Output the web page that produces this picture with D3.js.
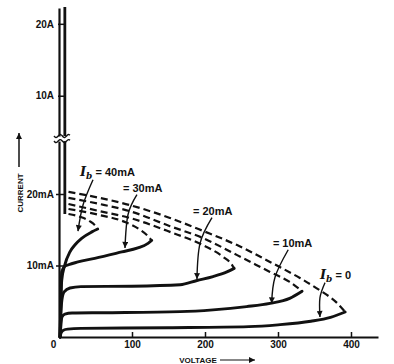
<!DOCTYPE html>
<html>
<head>
<meta charset="utf-8">
<script src="https://cdn.jsdelivr.net/npm/d3@7"></script>
<style>
  body { margin: 0; background: #fff; }
  text { font-family: 'Liberation Sans', Arial, sans-serif; font-weight: bold; fill: #111; }
</style>
</head>
<body>
<div id="chart"></div>
<script>
// values: voltage in V, current in mA (upper part in A)
const voltTicks = [0, 100, 200, 300, 400];
const mATicks = [10, 20];
const ampTicks = [10, 20];
const ibNames = ['40mA', '30mA', '20mA', '10mA', '0'];

// solid part of each characteristic, [volts, mA]
const solidIb40 = [[1.5, 0], [2.5, 5], [3.7, 7.9], [8, 10.1], [15, 11.9], [22, 12.9], [31, 13.8], [45, 14.7], [53, 15.1]];
const solidIb30 = [[1.5, 0], [2.5, 5], [3.7, 9.1], [7, 9.8], [13, 10.1], [26, 10.5], [49, 11.0], [86, 11.9], [108, 12.45], [122, 13.1], [127, 13.5]];
const solidIb20 = [[1.5, 0], [2.5, 3], [4, 5.2], [7, 6.3], [15, 6.85], [30, 7.05], [100, 7.1], [166, 7.3], [189, 7.9], [211, 8.45], [230, 9.1], [240, 9.6]];
const solidIb10 = [[1.5, 0], [2.5, 1.5], [4, 2.8], [8, 3.2], [18, 3.35], [60, 3.4], [166, 3.55], [211, 3.8], [257, 4.25], [289, 4.7], [316, 5.4], [333, 6.4]];
const solidIb0 = [[1.5, 0], [3, 0.6], [6, 0.95], [12, 1.1], [30, 1.2], [150, 1.3], [260, 1.45], [300, 1.7], [345, 2.2], [372, 2.75], [392, 3.5]];

// dashed return branch of each characteristic, [volts, mA]
const dashIb40 = [[13, 17.2], [29, 16.8], [42, 16.2], [49, 15.65], [53, 15.1]];
const dashIb30 = [[13, 17.9], [56, 17.05], [90, 16.1], [111, 15.0], [122, 14.1], [127, 13.5]];
const dashIb20 = [[13, 18.6], [56, 17.6], [97, 16.65], [152, 14.7], [197, 12.85], [225, 11.2], [237, 10.1], [240, 9.6]];
const dashIb10 = [[13, 19.45], [56, 18.6], [97, 17.6], [152, 15.5], [197, 13.85], [244, 11.45], [289, 9.1], [316, 7.7], [333, 6.4]];
const dashIb0 = [[13, 20.3], [56, 19.45], [97, 18.45], [152, 16.65], [197, 14.85], [244, 12.85], [289, 10.5], [330, 8.25], [357, 6.55], [381, 4.75], [392, 3.5]];

// callout arrows, [volts, mA]
const arrowIb40 = [[46.6, 22.0], [33, 18.5], [26, 14.8]];
const arrowIb30 = [[106.8, 19.9], [94.5, 17.1], [90.4, 12.45]];
const arrowIb20 = [[209.6, 16.7], [193.2, 13.1], [189, 8.1]];
const arrowIb10 = [[314, 12.2], [296, 8.4], [291.3, 4.7]];
const arrowIb0 = [[364.4, 7.6], [357.5, 5.5], [357.5, 2.8]];

const solidCurves = [solidIb40, solidIb30, solidIb20, solidIb10, solidIb0];
const dashCurves = [dashIb40, dashIb30, dashIb20, dashIb10, dashIb0];
const arrows = [arrowIb40, arrowIb30, arrowIb20, arrowIb10, arrowIb0];
// where each callout text starts, [volts, mA]
const calloutAt = [[28.8, 22.5], [87.7, 20.3], [183.6, 17.1], [293, 12.6], [357.5, 8.1]];

const voltMax = 437;
const mABreak = 27.4;   // axis broken here
const ampBreak = 4.4;
const ampTop = 22.2;
const spikeV = 8;       // the high-current line near zero volts
const spikeLowmA = 17.2;

const svg = d3.select('#chart').append('svg')
    .attr('width', 394)
    .attr('height', 364);

const x = d3.scaleLinear().domain([0, voltMax]).range([59, 378]);
const yLo = d3.scaleLinear().domain([0, mABreak]).range([337, 337 - mABreak * 7.15]);
const yHi = d3.scaleLinear().domain([ampBreak, ampTop]).range([136, 8]);

svg.append('defs').append('marker')
    .attr('id', 'head')
    .attr('viewBox', '0 0 10 10')
    .attr('refX', 10)
    .attr('refY', 5)
    .attr('markerWidth', 7)
    .attr('markerHeight', 6)
    .attr('markerUnits', 'userSpaceOnUse')
    .attr('orient', 'auto')
    .append('path')
    .attr('d', 'M0,0L10,5L0,10Z')
    .attr('fill', '#111');

// x axis
const xAxis = svg.append('g')
    .attr('transform', `translate(0, ${yLo(0)})`)
    .call(d3.axisBottom(x).tickValues(voltTicks).tickSizeInner(-5).tickSizeOuter(0).tickPadding(4));
xAxis.select('.domain').attr('stroke', '#111').attr('stroke-width', 2.2);
xAxis.selectAll('.tick line').attr('stroke', '#111').attr('stroke-width', 1.5)
    .filter((d) => d === 0).remove();
xAxis.selectAll('.tick text').attr('font-size', 10)
    .filter((d) => d === 0).attr('x', -6);

// lower y axis (mA)
const yAxisLo = svg.append('g')
    .attr('transform', `translate(${x(0)}, 0)`)
    .call(d3.axisLeft(yLo).tickValues(mATicks).tickSizeInner(3).tickSizeOuter(0).tickPadding(2)
        .tickFormat((d) => d + 'mA'));
yAxisLo.select('.domain').attr('stroke', '#111').attr('stroke-width', 2.2);
yAxisLo.selectAll('.tick line').attr('stroke', '#111').attr('stroke-width', 1.5).attr('x1', 5);
yAxisLo.selectAll('.tick text').attr('font-size', 10);

// upper y axis (A)
const yAxisHi = svg.append('g')
    .attr('transform', `translate(${x(0)}, 0)`)
    .call(d3.axisLeft(yHi).tickValues(ampTicks).tickSizeInner(1).tickSizeOuter(0).tickPadding(4)
        .tickFormat((d) => d + 'A'));
yAxisHi.select('.domain').attr('stroke', '#111').attr('stroke-width', 2.2);
yAxisHi.selectAll('.tick line').attr('stroke', '#111').attr('stroke-width', 1.5)
    .attr('x2', -1).attr('x1', x(spikeV) - x(0));
yAxisHi.selectAll('.tick text').attr('font-size', 10);

// the near-vertical high current line, interrupted by the break
svg.append('line')
    .attr('x1', x(spikeV)).attr('x2', x(spikeV))
    .attr('y1', yHi(ampTop) - 1).attr('y2', yHi(ampBreak))
    .attr('stroke', '#111').attr('stroke-width', 2.8);
svg.append('line')
    .attr('x1', x(spikeV)).attr('x2', x(spikeV))
    .attr('y1', yLo(mABreak)).attr('y2', yLo(spikeLowmA))
    .attr('stroke', '#111').attr('stroke-width', 2.8);

// break marks
const wave = d3.line().curve(d3.curveBasis);
[yHi(ampBreak), yLo(mABreak)].forEach((yb) => {
    const pts = d3.range(0, 17).map((t) => [x(0) - 5 + t, yb + 1.6 * Math.sin(t * 0.75)]);
    svg.append('path')
        .attr('d', wave(pts))
        .attr('fill', 'none')
        .attr('stroke', '#111')
        .attr('stroke-width', 1.4);
});

// characteristics
const curve = d3.line()
    .x((d) => x(d[0]))
    .y((d) => yLo(d[1]))
    .curve(d3.curveMonotoneX);

svg.append('g')
    .selectAll('path')
    .data(solidCurves)
    .join('path')
    .attr('d', curve)
    .attr('fill', 'none')
    .attr('stroke', '#111')
    .attr('stroke-width', 2.9)
    .attr('stroke-linecap', 'round');

svg.append('g')
    .selectAll('path')
    .data(dashCurves)
    .join('path')
    .attr('d', curve)
    .attr('fill', 'none')
    .attr('stroke', '#111')
    .attr('stroke-width', 2.2)
    .attr('stroke-dasharray', '7,4');

// callouts
const arrowLine = d3.line()
    .x((d) => x(d[0]))
    .y((d) => yLo(d[1]))
    .curve(d3.curveNatural);

svg.append('g')
    .selectAll('path')
    .data(arrows)
    .join('path')
    .attr('d', arrowLine)
    .attr('fill', 'none')
    .attr('stroke', '#111')
    .attr('stroke-width', 1.4)
    .attr('marker-end', 'url(#head)');

const callouts = svg.append('g')
    .selectAll('text')
    .data(ibNames)
    .join('text')
    .attr('x', (_, i) => x(calloutAt[i][0]))
    .attr('y', (_, i) => yLo(calloutAt[i][1]))
    .attr('font-size', 11);

callouts.each(function (d, i) {
    const t = d3.select(this);
    if (i === 0 || i === ibNames.length - 1) {
        t.append('tspan')
            .text('I')
            .attr('font-family', "'DejaVu Serif', serif")
            .attr('font-style', 'italic')
            .attr('font-size', 13);
        t.append('tspan')
            .text('b')
            .attr('font-family', "'DejaVu Serif', serif")
            .attr('font-style', 'italic')
            .attr('font-size', 9)
            .attr('dy', 3);
        t.append('tspan').text(' = ' + d).attr('dy', -3);
    } else {
        t.append('tspan').text('= ' + d);
    }
});

// axis titles
svg.append('text')
    .attr('transform', 'translate(23, 193) rotate(-90)')
    .attr('text-anchor', 'middle')
    .attr('font-size', 8)
    .text('CURRENT');
svg.append('line')
    .attr('x1', 19).attr('x2', 19)
    .attr('y1', 167).attr('y2', 133)
    .attr('stroke', '#111').attr('stroke-width', 1.5)
    .attr('marker-end', 'url(#head)');

svg.append('text')
    .attr('x', 198)
    .attr('y', 363)
    .attr('text-anchor', 'middle')
    .attr('font-size', 8)
    .text('VOLTAGE');
svg.append('line')
    .attr('x1', 220).attr('x2', 255)
    .attr('y1', 360).attr('y2', 360)
    .attr('stroke', '#111').attr('stroke-width', 1.2)
    .attr('marker-end', 'url(#head)');
</script>
</body>
</html>
